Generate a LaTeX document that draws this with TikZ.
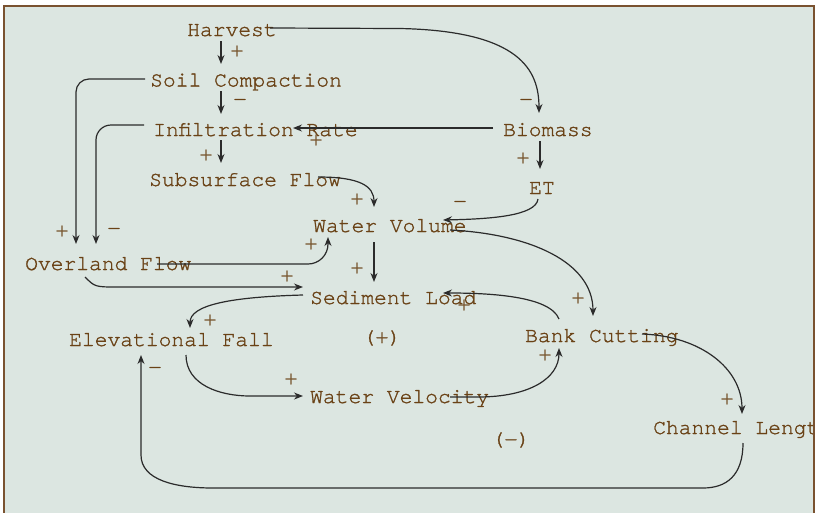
\documentclass[tikz,border=0pt]{standalone}
\usepackage{fontspec}
\setmainfont{TeX Gyre Cursor}[FakeBold=1.3]
\usetikzlibrary{arrows.meta,calc}
\definecolor{bgc}{HTML}{DCE6E1}
\definecolor{framec}{HTML}{7A5230}
\definecolor{txtc}{HTML}{6A4216}
\definecolor{lnc}{HTML}{2B2B2B}
\begin{document}
\begin{tikzpicture}[x=1pt,y=-1pt,
  lab/.style={font=\fontsize{21.3}{24}\selectfont, text=txtc, inner sep=0pt},
  word/.style={lab, anchor=base west},
  arr/.style={draw=lnc, line width=1.2pt, -{Stealth[length=9pt,width=7pt]}}]
\useasboundingbox (0,0) rectangle (820,512);
\fill[white] (0,0) rectangle (820,512);
\fill[bgc] (4,6) rectangle (814,520);
\begin{scope}
\clip (4,6) rectangle (814,520);
% variables
\node[word] (harvest) at (187,36) {Harvest};
\node[word] (soil) at (150,86.5) {Soil Compaction};
\node[word] (infil) at (153,136) {Infiltration Rate};
\node[word] (subs) at (149,186) {Subsurface Flow};
\node[word] (wvol) at (313,232) {Water Volume};
\node[word] (over) at (25,270) {Overland Flow};
\node[word] (sed) at (310,304) {Sediment Load};
\node[word] (elev) at (69,346) {Elevational Fall};
\node[word] (wvel) at (310,403) {Water Velocity};
\node[word] (bank) at (525,342) {Bank Cutting};
\node[word] (chan) at (653,434) {Channel Length};
\node[word] (bio) at (503,136) {Biomass};
\node[word] (et) at (529,194) {ET};
\node[lab] (loopA) at (382,338) {(+)};
\node[lab] (loopB) at (511,440) {(−)};
% connectors
\draw[arr] ($(harvest.base west)+(34,5)$) -- ($(soil.base west)+(71,-22.5)$);
\draw[arr] ($(soil.base west)+(71,4.5)$) -- ($(infil.base west)+(68,-22)$);
\draw[arr] ($(infil.base west)+(68,4)$) -- ($(subs.base west)+(72,-23)$);
\draw[arr] ($(harvest.base west)+(83,-8)$) -- (400,28.5) .. controls (520,31) and (539,70) .. ($(bio.base west)+(36,-23)$);
\draw[arr] ($(bio.base west)+(-10,-8)$) -- ($(infil.base west)+(140,-8)$);
\draw[arr] ($(bio.base west)+(37,5)$) -- ($(et.base west)+(11,-25)$);
\draw[arr] ($(et.base west)+(9,5)$) .. controls (536,216) and (490,219) .. ($(wvol.base west)+(130,-12)$);
\draw[arr] ($(subs.base west)+(169,-9)$) .. controls (360,177) and (374,186) .. ($(wvol.base west)+(61,-25)$);
\draw[arr, rounded corners=13pt] ($(soil.base west)+(-5,-7.5)$) -| ($(over.base west)+(51,-26)$);
\draw[arr, rounded corners=15pt] ($(infil.base west)+(-9,-11)$) -| ($(over.base west)+(71,-26)$);
\draw[arr, rounded corners=20pt] ($(over.base west)+(132,-6)$) -| ($(wvol.base west)+(15,5)$);
\draw[arr] ($(over.base west)+(60,7)$) .. controls (95,287) .. (118,287) -- ($(sed.base west)+(-7,-17)$);
\draw[arr] ($(wvol.base west)+(61,10)$) -- ($(sed.base west)+(64,-22)$);
\draw[arr] ($(wvol.base west)+(137,-2)$) .. controls (530,234) and (593,262) .. ($(bank.base west)+(68,-26)$);
\draw[arr] ($(sed.base west)+(-7,-9)$) .. controls (230,297) and (190,305) .. ($(elev.base west)+(121,-18)$);
\draw[arr] ($(bank.base west)+(34,-23)$) .. controls (550,296) and (490,293) .. ($(sed.base west)+(133,-11)$);
\draw[arr] ($(elev.base west)+(117,9)$) .. controls (186,385) and (220,396) .. (250,396) -- ($(wvel.base west)+(-7,-7)$);
\draw[arr] ($(wvel.base west)+(140,-6)$) -- (478,397) .. controls (530,397) and (559,378) .. ($(bank.base west)+(34,6)$);
\draw[arr] ($(bank.base west)+(117,-8)$) .. controls (700,336) and (742,368) .. ($(chan.base west)+(89,-20)$);
\draw[arr] ($(chan.base west)+(90,9)$) .. controls (743,476) and (726,488) .. (703,488) -- (213,488) .. controls (175,488) and (141,480) .. (141,455) -- ($(elev.base west)+(72,9)$);
% polarity labels
\node[lab] (p1) at (237,51) {+};
\node[lab] (p2) at (240,102) {−};
\node[lab] (p3) at (206,155) {+};
\node[lab] (p4) at (526,102) {−};
\node[lab] (p5) at (316,140) {+};
\node[lab] (p6) at (523,158) {+};
\node[lab] (p7) at (460,204) {−};
\node[lab] (p8) at (357,199) {+};
\node[lab] (p9) at (62,231) {+};
\node[lab] (p10) at (114,231) {−};
\node[lab] (p11) at (311,244) {+};
\node[lab] (p12) at (287,276) {+};
\node[lab] (p13) at (357,268) {+};
\node[lab] (p14) at (578,298) {+};
\node[lab] (p15) at (210,320) {+};
\node[lab] (p16) at (464,305) {+};
\node[lab] (p17) at (291,379) {+};
\node[lab] (p18) at (545,355) {+};
\node[lab] (p19) at (727,399) {+};
\node[lab] (p20) at (155,370) {−};
\end{scope}
\draw[framec, line width=1.4pt] (4,520) -- (4,6) -- (814,6) -- (814,520);
\end{tikzpicture}
\end{document}
